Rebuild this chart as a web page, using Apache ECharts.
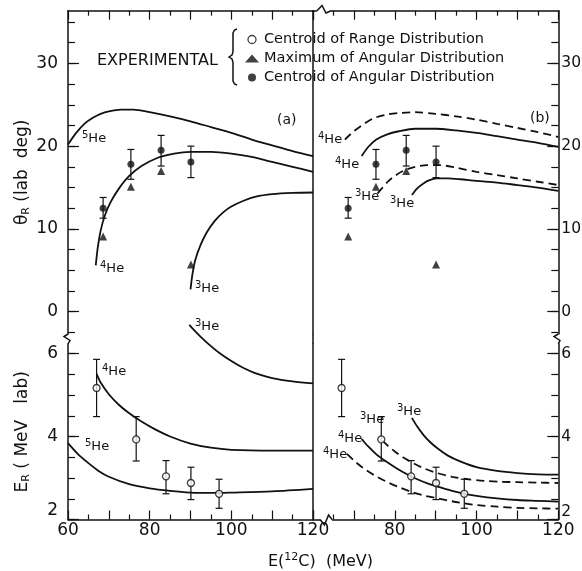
<!DOCTYPE html>
<html>
<head>
<meta charset="utf-8">
<script src="https://cdn.jsdelivr.net/npm/echarts@6/dist/echarts.min.js"></script>
<style>
  html, body { margin: 0; background: #fff; }
  #main { width: 582px; height: 571px; }
</style>
</head>
<body>
<div id="main"></div>
<script>
// ---- axis ticks / labels ----
const eLabA = [60, 80, 100, 120]
const eLabB = [80, 100, 120]
const thetaLab = [0, 10, 20, 30]
const thetaTicks = [-2.5, 0, 2.5, 5, 7.5, 10, 12.5, 15, 17.5, 20, 22.5, 25, 27.5, 30, 32.5, 35]
const erLab = [2, 4, 6]
const erTicks = [2, 2.5, 3, 3.5, 4, 4.5, 5, 5.5, 6]

// ---- experimental points (same in both panels) ----
const angE = [68.6, 75.4, 82.8, 90.1]
const angTheta = [12.5, 17.8, 19.5, 18.1]
const angLo = [11.3, 16.0, 17.6, 16.2]
const angHi = [13.8, 19.6, 21.3, 20.0]
const maxTheta = [9.1, 15.1, 17.0, 5.7]
const rngE = [67.0, 76.7, 84.0, 90.1, 97.0]
const rngEr = [5.17, 3.93, 3.04, 2.88, 2.62]
const rngLo = [4.48, 3.41, 2.62, 2.48, 2.27]
const rngHi = [5.86, 4.48, 3.42, 3.26, 2.97]

// ---- (a) calculated curves ----
const a5thE = [60, 62, 64, 66, 68, 70, 73, 76, 80, 85, 90, 95, 100, 105, 110, 115, 120]
const a5th = [20.2, 21.6, 22.7, 23.4, 23.9, 24.2, 24.4, 24.4, 24.1, 23.6, 23.0, 22.3, 21.6, 20.8, 20.1, 19.4, 18.8]
const a4thE = [66.8, 67.3, 68, 69, 70.5, 72.5, 75, 78, 82, 86, 90, 95, 100, 105, 110, 115, 120]
const a4th = [5.6, 7.8, 9.8, 11.6, 13.3, 14.9, 16.4, 17.6, 18.6, 19.1, 19.3, 19.3, 19.1, 18.7, 18.1, 17.5, 16.9]
const a3thE = [90.0, 90.5, 91.2, 92.5, 94, 96, 98, 100, 103, 106, 110, 115, 120]
const a3th = [2.7, 4.6, 6.3, 8.1, 9.6, 11.0, 12.0, 12.7, 13.4, 13.9, 14.2, 14.35, 14.4]

const a3erE = [89.7, 91, 92.5, 94.5, 97, 100, 103, 106, 110, 115, 120]
const a3er = [6.69, 6.55, 6.40, 6.22, 6.02, 5.82, 5.65, 5.52, 5.41, 5.33, 5.28]
const a4erE = [67, 68, 70, 72.5, 75, 78, 81, 85, 90, 95, 100, 110, 120]
const a4er = [5.51, 5.30, 5.02, 4.76, 4.56, 4.36, 4.19, 4.00, 3.83, 3.73, 3.68, 3.66, 3.66]
const a5erE = [60, 62.5, 65, 67.5, 70, 75, 80, 85, 90, 95, 100, 110, 120]
const a5er = [3.84, 3.57, 3.36, 3.17, 3.03, 2.85, 2.75, 2.69, 2.65, 2.64, 2.65, 2.68, 2.74]

// ---- (b) calculated curves (D = dashed, S = solid) ----
const b4thDE = [67.8, 70, 72.5, 75, 78, 81, 85, 90, 95, 100, 105, 110, 115, 120]
const b4thD = [20.8, 21.8, 22.7, 23.4, 23.8, 24.0, 24.1, 23.9, 23.6, 23.2, 22.7, 22.2, 21.7, 21.1]
const b4thSE = [71.9, 73.5, 75.5, 78, 81, 85, 90, 95, 100, 105, 110, 115, 120]
const b4thS = [18.8, 19.9, 20.8, 21.4, 21.8, 22.1, 22.1, 21.9, 21.6, 21.2, 20.8, 20.4, 19.9]
const b3thDE = [75.8, 77, 78.5, 80, 82, 85, 88, 91, 95, 100, 105, 110, 115, 120]
const b3thD = [14.3, 15.0, 15.8, 16.4, 17.0, 17.5, 17.7, 17.7, 17.4, 16.9, 16.5, 16.1, 15.7, 15.3]
const b3thSE = [84.2, 85.5, 87, 88.5, 90.3, 93, 96, 100, 105, 110, 115, 120]
const b3thS = [14.1, 14.9, 15.5, 15.9, 16.1, 16.1, 16.0, 15.8, 15.6, 15.3, 15.0, 14.6]

const b3erSE = [84.2, 85.5, 87, 88.5, 90.5, 93, 96, 100, 105, 110, 115, 120]
const b3erS = [4.45, 4.24, 4.04, 3.88, 3.71, 3.54, 3.40, 3.26, 3.17, 3.12, 3.09, 3.08]
const b3erDE = [77, 78.5, 80, 82, 84.5, 87, 90, 94, 98, 102, 106, 110, 115, 120]
const b3erD = [3.90, 3.76, 3.64, 3.50, 3.36, 3.24, 3.13, 3.03, 2.97, 2.93, 2.91, 2.90, 2.89, 2.88]
const b4erSE = [71.9, 73.5, 75.5, 78, 80.5, 83, 85.5, 88, 90.5, 94, 97, 100, 105, 110, 115, 120]
const b4erS = [3.94, 3.76, 3.57, 3.39, 3.23, 3.09, 2.97, 2.87, 2.79, 2.69, 2.62, 2.57, 2.51, 2.47, 2.45, 2.43]
const b4erDE = [68.3, 70.5, 73, 75.5, 78, 81, 84, 87, 90.5, 94, 97, 100, 105, 110, 115, 120]
const b4erD = [3.58, 3.38, 3.19, 3.04, 2.91, 2.78, 2.67, 2.58, 2.51, 2.44, 2.39, 2.35, 2.31, 2.28, 2.27, 2.26]

const N_RNG = 'Centroid of Range Distribution'
const N_MAX = 'Maximum of Angular Distribution'
const N_ANG = 'Centroid of Angular Distribution'

const INK = '#111'
const FONT = 'DejaVu Sans'
const thMin = -2.69, thMax = 36.36, erMin = 2, erMax = 6.23

var myChart = echarts.init(document.getElementById('main'))

const lineSt = { color: INK, width: 1.5 }
const tickSt = { color: INK, width: 1.2 }

function xAx(grid, pos, labels) {
  return {
    type: 'value', gridIndex: grid, position: pos, min: 60, max: 120, interval: 10,
    axisLine: { onZero: false, lineStyle: lineSt },
    axisTick: { inside: true, length: 9, lineStyle: tickSt },
    minorTick: { show: true, splitNumber: 2, length: 5, lineStyle: tickSt },
    splitLine: { show: false },
    axisLabel: labels
      ? { customValues: labels, margin: 3, color: INK, fontSize: 17, fontFamily: FONT }
      : { show: false }
  }
}

function yMain(grid, pos, min, max, labels, extra) {
  const right = pos === 'right'
  return Object.assign({
    type: 'value', gridIndex: grid, position: pos, min: min, max: max,
    axisLine: { onZero: false, lineStyle: lineSt },
    axisTick: { inside: true, length: 11, customValues: labels, lineStyle: tickSt },
    axisLabel: {
      customValues: labels, margin: right ? 3 : 10, color: INK,
      fontSize: right ? 15.5 : 17, fontFamily: FONT, verticalAlignMinLabel: min === erMin ? 'bottom' : null
    },
    splitLine: { show: false }
  }, extra || {})
}

function yMinor(grid, pos, min, max, ticks) {
  return {
    type: 'value', gridIndex: grid, position: pos, min: min, max: max,
    axisLine: { show: false, onZero: false },
    axisTick: { inside: true, length: 7, customValues: ticks, lineStyle: tickSt },
    axisLabel: { show: false },
    splitLine: { show: false }
  }
}

function yLineOnly(grid, pos, min, max) {
  return {
    type: 'value', gridIndex: grid, position: pos, min: min, max: max,
    axisLine: { onZero: false, lineStyle: lineSt },
    axisTick: { show: false }, axisLabel: { show: false }, splitLine: { show: false }
  }
}

const nameRich = {
  t: { fontSize: 17, fontFamily: FONT, color: INK },
  s: { fontSize: 11, fontFamily: FONT, color: INK, padding: [8, 0, 0, 0] }
}

function curve(xi, yi, xs, ys, dashed, noClip) {
  return {
    type: 'line', xAxisIndex: xi, yAxisIndex: yi, silent: true,
    data: xs.map((x, i) => [x, ys[i]]),
    showSymbol: false, symbol: 'none', smooth: 0.3, clip: !noClip,
    lineStyle: { color: INK, width: 1.8, type: dashed ? [8, 5] : 'solid' }, z: 2
  }
}

function errBars(xi, yi, xs, lo, hi) {
  return {
    type: 'custom', xAxisIndex: xi, yAxisIndex: yi, silent: true, z: 3,
    data: xs.map((x, i) => [x, lo[i], hi[i]]),
    renderItem: function (params, api) {
      const t = api.coord([api.value(0), api.value(2)])
      const b = api.coord([api.value(0), api.value(1)])
      const w = 3.5
      const st = { stroke: INK, lineWidth: 1.2 }
      return {
        type: 'group', children: [
          { type: 'line', shape: { x1: t[0], y1: t[1], x2: b[0], y2: b[1] }, style: st },
          { type: 'line', shape: { x1: t[0] - w, y1: t[1], x2: t[0] + w, y2: t[1] }, style: st },
          { type: 'line', shape: { x1: b[0] - w, y1: b[1], x2: b[0] + w, y2: b[1] }, style: st }
        ]
      }
    }
  }
}

function pts(name, xi, yi, xs, ys, symbol, size, style) {
  return {
    name: name, type: 'scatter', xAxisIndex: xi, yAxisIndex: yi, silent: true, z: 4,
    symbol: symbol, symbolSize: size,
    data: xs.map((x, i) => [x, ys[i]]),
    itemStyle: style
  }
}

const filled = { color: INK }
const hollow = { color: '#fff', borderColor: INK, borderWidth: 1.3 }

function heLabel(mass, x, y) {
  return {
    type: 'text', left: x, top: y, z: 100,
    style: {
      text: '{m|' + mass + '}{h|He}', fill: INK,
      rich: {
        m: { fontSize: 10, fontFamily: FONT, fill: INK, padding: [0, 0, 8, 0] },
        h: { fontSize: 13, fontFamily: FONT, fill: INK }
      }
    }
  }
}

function plainText(txt, x, y, size) {
  return { type: 'text', left: x, top: y, z: 100, style: { text: txt, fill: INK, font: size + 'px "' + FONT + '"' } }
}

function poly(points) {
  return { type: 'polyline', z: 101, shape: { points: points }, style: { stroke: INK, lineWidth: 1.5, fill: null } }
}

function eraser(x, y, w, h) {
  return { type: 'rect', z: 100, shape: { x: x, y: y, width: w, height: h }, style: { fill: '#fff' } }
}

const option = {
  animation: false,
  backgroundColor: '#fff',
  textStyle: { fontFamily: FONT, color: INK },
  grid: [
    { left: 68, top: 10.7, width: 245, height: 323.3, containLabel: false, outerBoundsMode: 'none' },
    { left: 68, top: 344, width: 245, height: 175.5, containLabel: false, outerBoundsMode: 'none' },
    { left: 313, top: 10.7, width: 245.3, height: 323.3, containLabel: false, outerBoundsMode: 'none' },
    { left: 313, top: 344, width: 245.3, height: 175.5, containLabel: false, outerBoundsMode: 'none' }
  ],
  xAxis: [
    xAx(0, 'top', null),
    xAx(1, 'bottom', eLabA),
    xAx(2, 'top', null),
    xAx(3, 'bottom', eLabB)
  ],
  yAxis: [
    yMain(0, 'left', thMin, thMax, thetaLab, {
      name: '{t|θ}{s|R}{t| (lab  deg)}', nameLocation: 'middle', nameRotate: 90, nameGap: 36,
      nameTextStyle: { rich: nameRich }
    }),
    yMinor(0, 'left', thMin, thMax, thetaTicks),
    yLineOnly(0, 'right', thMin, thMax),
    yMain(1, 'left', erMin, erMax, erLab, {
      name: '{t|E}{s|R}{t| ( MeV   lab)}', nameLocation: 'middle', nameRotate: 90, nameGap: 36,
      nameTextStyle: { rich: nameRich }
    }),
    yMinor(1, 'left', erMin, erMax, erTicks),
    yLineOnly(1, 'right', erMin, erMax),
    yMain(2, 'right', thMin, thMax, thetaLab),
    yMinor(2, 'right', thMin, thMax, thetaTicks),
    yMain(3, 'right', erMin, erMax, erLab),
    yMinor(3, 'right', erMin, erMax, erTicks)
  ],
  legend: {
    left: 245, top: 32, padding: 0, orient: 'vertical', itemGap: 4, itemWidth: 14, itemHeight: 8,
    selectedMode: false,
    textStyle: { fontSize: 14.5, fontFamily: FONT, color: INK },
    data: [
      { name: N_RNG, icon: 'circle', itemStyle: hollow },
      { name: N_MAX, icon: 'triangle' },
      { name: N_ANG, icon: 'circle' }
    ]
  },
  series: [
    // (a) angle
    curve(0, 0, a5thE, a5th, false),
    curve(0, 0, a4thE, a4th, false),
    curve(0, 0, a3thE, a3th, false),
    errBars(0, 0, angE, angLo, angHi),
    pts(N_MAX, 0, 0, angE, maxTheta, 'triangle', 8, filled),
    pts(N_ANG, 0, 0, angE, angTheta, 'circle', 7, filled),
    // (a) energy
    curve(1, 3, a3erE, a3er, false, true),
    curve(1, 3, a4erE, a4er, false),
    curve(1, 3, a5erE, a5er, false),
    errBars(1, 3, rngE, rngLo, rngHi),
    pts(N_RNG, 1, 3, rngE, rngEr, 'circle', 7, hollow),
    // (b) angle
    curve(2, 6, b4thDE, b4thD, true),
    curve(2, 6, b4thSE, b4thS, false),
    curve(2, 6, b3thDE, b3thD, true),
    curve(2, 6, b3thSE, b3thS, false),
    errBars(2, 6, angE, angLo, angHi),
    pts(N_MAX, 2, 6, angE, maxTheta, 'triangle', 8, filled),
    pts(N_ANG, 2, 6, angE, angTheta, 'circle', 7, filled),
    // (b) energy
    curve(3, 8, b3erSE, b3erS, false),
    curve(3, 8, b3erDE, b3erD, true),
    curve(3, 8, b4erSE, b4erS, false),
    curve(3, 8, b4erDE, b4erD, true),
    errBars(3, 8, rngE, rngLo, rngHi),
    pts(N_RNG, 3, 8, rngE, rngEr, 'circle', 7, hollow)
  ],
  graphic: [
    plainText('EXPERIMENTAL', 97, 53, 16),
    poly([[237, 29], [234.5, 30], [233, 33], [233, 52], [232, 55], [229, 57], [232, 59], [233, 62], [233, 81], [234.5, 84], [237, 85]]),
    plainText('(a)', 277, 113, 14),
    plainText('(b)', 530, 111, 14),
    heLabel(5, 82, 130), heLabel(4, 100, 260), heLabel(3, 195, 280),
    heLabel(3, 195, 318), heLabel(4, 102, 363), heLabel(5, 85, 438),
    heLabel(4, 318, 131), heLabel(4, 335, 156), heLabel(3, 355, 188), heLabel(3, 390, 195),
    heLabel(3, 397, 403), heLabel(3, 360, 411), heLabel(4, 338, 430), heLabel(4, 323, 446),
    {
      type: 'text', left: 268, top: 552, z: 100,
      style: {
        text: '{t|E(}{p|12}{t|C)  (MeV)}', fill: INK,
        rich: {
          t: { fontSize: 16, fontFamily: FONT, fill: INK },
          p: { fontSize: 11, fontFamily: FONT, fill: INK, padding: [0, 0, 8, 0] }
        }
      }
    },
    // axis breaks
    poly([[68, 334], [64, 336.5], [70, 340.5], [68, 344]]),
    poly([[558.3, 334], [554, 336.5], [560, 340.5], [558.3, 344]]),
    poly([[313, 334], [313, 344]]),
    eraser(317, 8, 14, 5),
    poly([[317, 10.7], [322, 5.5], [326, 13], [331, 10.7]]),
    eraser(320, 517, 12, 5),
    poly([[320, 519.5], [324.5, 525], [328.5, 515], [332, 519.5]])
  ]
}

myChart.setOption(option)
</script>
</body>
</html>
